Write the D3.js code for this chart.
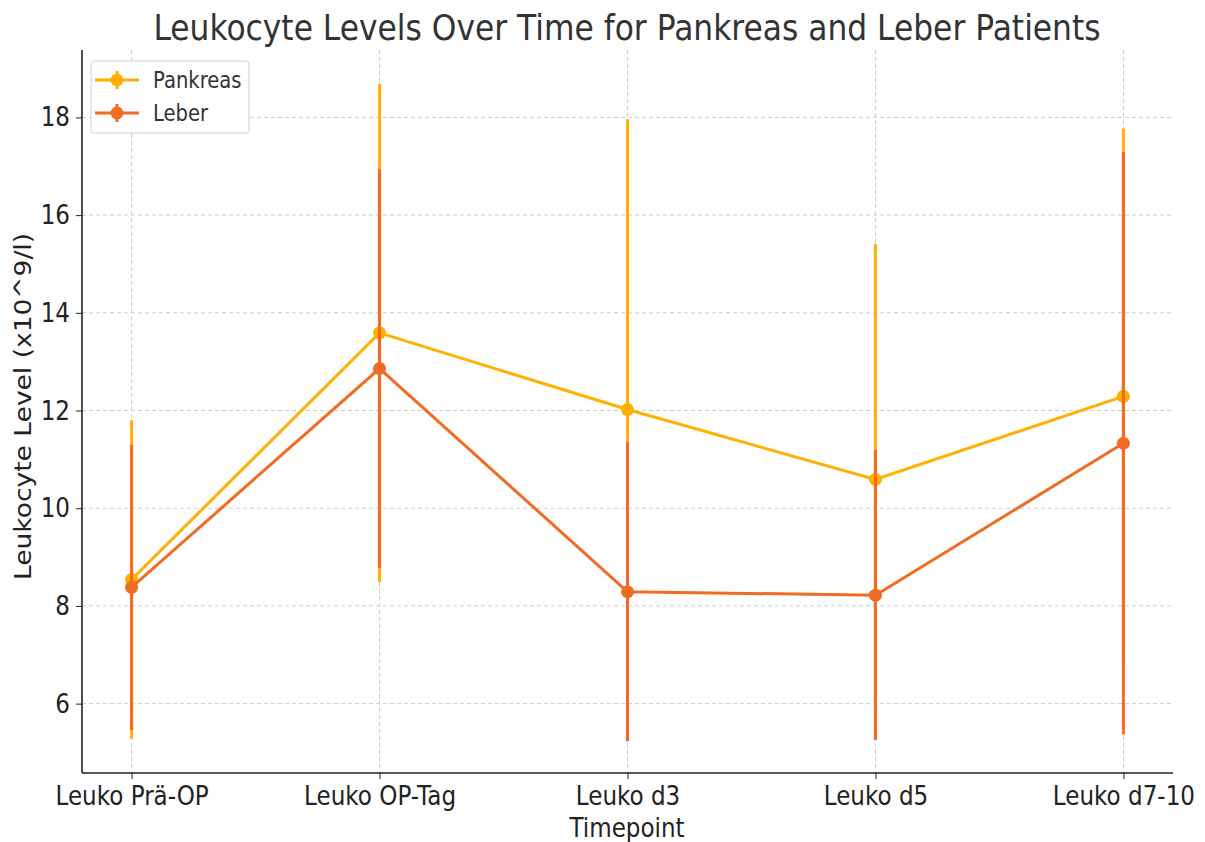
<!DOCTYPE html>
<html><head><meta charset="utf-8">
<script src="https://cdn.jsdelivr.net/npm/d3@7"></script>
<style>
body{margin:0;background:#fff;}
svg text{font-family:"DejaVu Sans",sans-serif;fill:#333;}
</style></head>
<body><svg id="c" width="1205" height="842"></svg>
<script>
const categories = ["Leuko Prä-OP","Leuko OP-Tag","Leuko d3","Leuko d5","Leuko d7-10"];
const pankreasMean = [8.54, 13.59, 12.02, 10.59, 12.29];
const pankreasErr  = [3.26, 5.10, 5.94, 4.82, 5.48];
const leberMean    = [8.38, 12.86, 8.29, 8.22, 11.33];
const leberErr     = [2.92, 4.08, 3.06, 2.97, 5.96];
const yTicks = [6, 8, 10, 12, 14, 16, 18];
const seriesNames = ["Pankreas", "Leber"];
const colors = ["#FFB000", "#F26B22"];

const SX = 0.87; // horizontal squeeze of the glyphs
const svg = d3.select("#c");
const L = 82, R = 1173, T = 50, B = 773;
const x = d3.scaleLinear().domain([-0.2, 4.2]).range([L, R]);
const y = d3.scaleLinear().domain([4.58, 19.38]).range([B, T]);

// grid
const g = svg.append("g");
g.selectAll(".gy").data(yTicks).enter().append("line")
  .attr("x1", L).attr("x2", R).attr("y1", d => y(d)).attr("y2", d => y(d))
  .attr("stroke", "#cccccc").attr("stroke-width", 1).attr("stroke-dasharray", "4,3");
g.selectAll(".gx").data(categories).enter().append("line")
  .attr("x1", (d,i) => x(i)).attr("x2", (d,i) => x(i)).attr("y1", T).attr("y2", B)
  .attr("stroke", "#cccccc").attr("stroke-width", 1).attr("stroke-dasharray", "4,3");

// axes
const xAxis = d3.axisBottom(x).tickValues(d3.range(categories.length)).tickFormat(i => categories[i]).tickSize(6).tickPadding(7);
const yAxis = d3.axisLeft(y).tickValues(yTicks).tickSize(6).tickPadding(6);
const gx = svg.append("g").attr("transform", `translate(0,${B})`).call(xAxis);
const gy = svg.append("g").attr("transform", `translate(${L},0)`).call(yAxis);
[gx, gy].forEach(a => {
  a.select(".domain").attr("stroke", "#222").attr("stroke-width", 1.6);
  a.selectAll(".tick line").attr("stroke", "#222").attr("stroke-width", 1);
  a.selectAll(".tick text").attr("font-size", 26.5).style("fill", "#222");
});
gx.selectAll(".tick text").attr("transform", `scale(${SX},1)`);
gy.selectAll(".tick text").attr("x", -12 / SX).attr("transform", `scale(${SX},1)`);
gx.select(".domain").attr("d", `M${L},0H${R}`);
gy.select(".domain").attr("d", `M0,${B}V${T}`);

// series
const series = [
  {name: seriesNames[0], mean: pankreasMean, err: pankreasErr, color: colors[0]},
  {name: seriesNames[1], mean: leberMean, err: leberErr, color: colors[1]}
];
const line = d3.line().x((d,i) => x(i)).y(d => y(d));
series.forEach(s => {
  const sg = svg.append("g");
  sg.selectAll("line.err").data(s.mean).enter().append("line")
    .attr("x1", (d,i) => x(i)).attr("x2", (d,i) => x(i))
    .attr("y1", (d,i) => y(d - s.err[i])).attr("y2", (d,i) => y(d + s.err[i]))
    .attr("stroke", s.color).attr("stroke-width", 3);
  sg.append("path").datum(s.mean).attr("d", line)
    .attr("fill", "none").attr("stroke", s.color).attr("stroke-width", 3);
  sg.selectAll("circle").data(s.mean).enter().append("circle")
    .attr("cx", (d,i) => x(i)).attr("cy", d => y(d)).attr("r", 6.5)
    .attr("fill", s.color);
});

// title & labels
svg.append("text").attr("transform", `translate(627,40) scale(${SX},1)`).attr("text-anchor", "middle")
  .attr("font-size", 36).text("Leukocyte Levels Over Time for Pankreas and Leber Patients");
svg.append("text").attr("transform", `translate(627,837) scale(${SX},1)`).attr("text-anchor", "middle")
  .attr("font-size", 26.5).style("fill", "#222").text("Timepoint");
svg.append("text").attr("transform", `translate(31,${(T+B)/2 - 5}) rotate(-90) scale(1,${SX})`).attr("text-anchor", "middle")
  .attr("font-size", 26.5).style("fill", "#222").text("Leukocyte Level (x10^9/l)");

// legend
const lg = svg.append("g").attr("transform", "translate(91,61)");
lg.append("rect").attr("width", 158).attr("height", 72).attr("rx", 3)
  .attr("fill", "#fff").attr("fill-opacity", 0.85).attr("stroke", "#d0d0d0");
series.forEach((s, i) => {
  const yy = 19 + i * 33;
  lg.append("line").attr("x1", 4).attr("x2", 48).attr("y1", yy).attr("y2", yy)
    .attr("stroke", s.color).attr("stroke-width", 3);
  lg.append("line").attr("x1", 26).attr("x2", 26).attr("y1", yy - 9).attr("y2", yy + 9)
    .attr("stroke", s.color).attr("stroke-width", 3);
  lg.append("circle").attr("cx", 26).attr("cy", yy).attr("r", 6.5).attr("fill", s.color);
  lg.append("text").attr("transform", `translate(62,${yy + 8}) scale(${SX},1)`).attr("font-size", 22.5).style("fill", "#333").text(s.name);
});
</script></body></html>
